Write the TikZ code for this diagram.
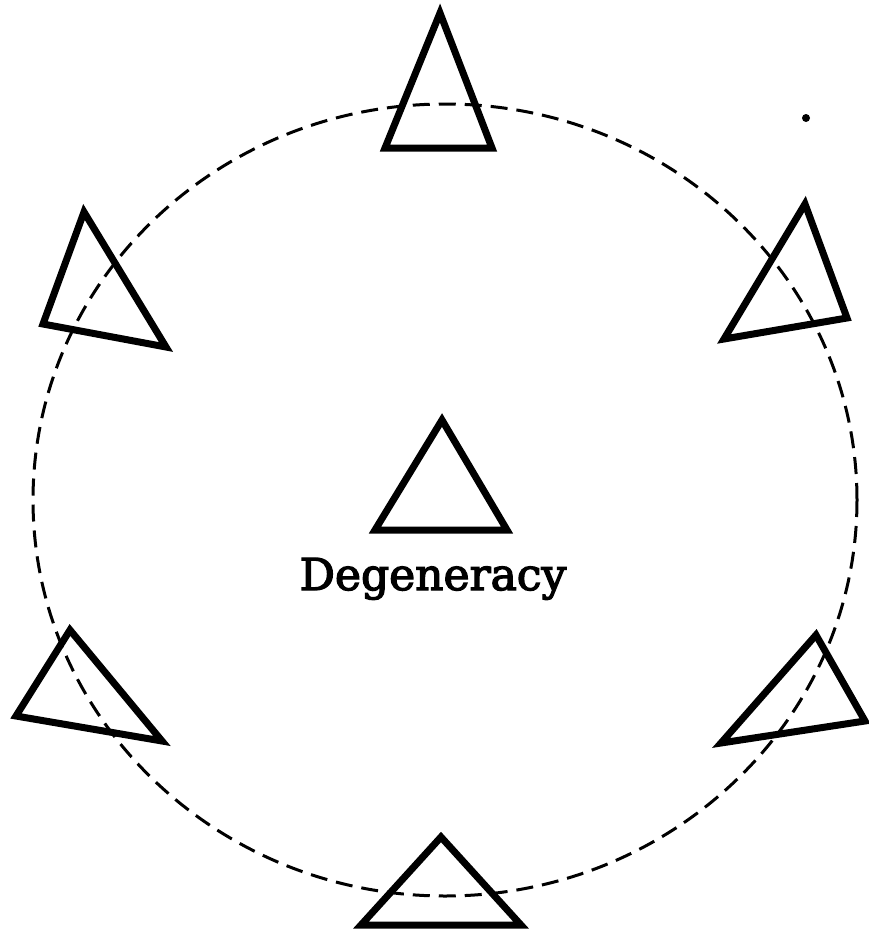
\documentclass[tikz,border=0pt]{standalone}
\usepackage{fontspec}
\setmainfont{DejaVu Serif}
\newfontfamily\labelfont[FakeBold=3]{DejaVu Serif}
\begin{document}
\begin{tikzpicture}[x=1pt,y=-1pt,
  tri/.style={draw=black,line width=7pt,line join=miter,fill=none},
  ring/.style={draw=black,line width=3pt,dash pattern=on 17pt off 9pt},
  lbl/.style={inner sep=0pt,anchor=base,font=\labelfont\fontsize{44}{52}\selectfont}]
\useasboundingbox (0,0) rectangle (869,932);
% dashed circle
\draw[ring] (445,500) ellipse [x radius=412, y radius=396];
% triangles
\draw[tri] (440,13) -- (385,148) -- (492,148) -- cycle;
\draw[tri] (84,212) -- (43,324) -- (166,347) -- cycle;
\draw[tri] (805,204) -- (724,339) -- (847,318) -- cycle;
\draw[tri] (442,420) -- (375,530) -- (507,530) -- cycle;
\draw[tri] (70,630) -- (16,716) -- (162,741) -- cycle;
\draw[tri] (816,635) -- (721,743) -- (865,721) -- cycle;
\draw[tri] (441,837) -- (361,925) -- (521,925) -- cycle;
% label
\node[lbl] (deg) at (433,590) {Degeneracy};
% dot
\fill (806,118) circle (4);
\end{tikzpicture}
\end{document}
